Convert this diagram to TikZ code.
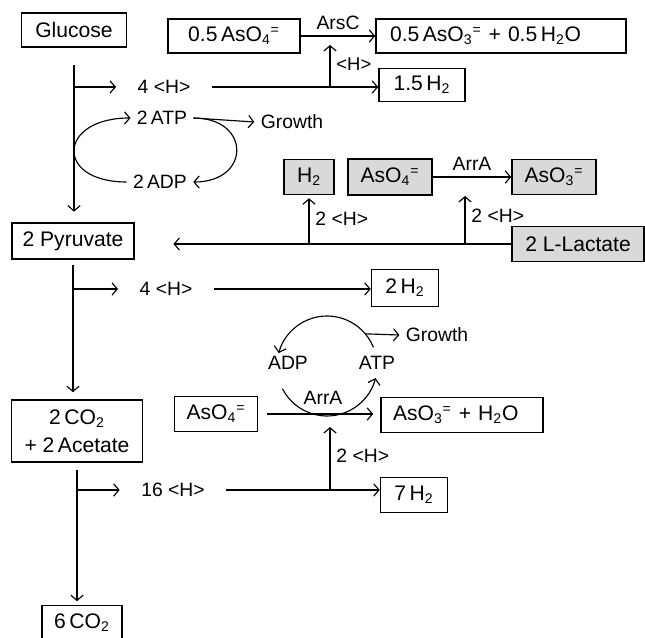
\documentclass[tikz,border=0pt]{standalone}
\usepackage{fontspec}
\setmainfont{Liberation Sans}
\usepackage{tikz}
\usetikzlibrary{arrows.meta,positioning,calc}
\newcommand{\chsub}[1]{\textsubscript{#1}}
\newcommand{\chsup}[1]{\textsuperscript{#1}}

\begin{document}
\begin{tikzpicture}[x=0.02cm,y=-0.02cm,line width=0.65pt,
    >={Straight Barb[length=3pt,width=7pt]},
    box/.style={draw,line width=0.9pt,font=\fontsize{12}{14}\selectfont,inner sep=0pt},
    greybox/.style={box,fill=gray!30},
    lbl/.style={font=\fontsize{11}{13}\selectfont},
    hlbl/.style={lbl,inner xsep=12pt}]
    \useasboundingbox (0,0) rectangle (645,638);

    \node (glucose) at (74,30) [box,minimum width=2.1cm,minimum height=0.68cm] {Glucose};
    \node (a05in) at (234,36) [box,minimum width=2.64cm,minimum height=0.68cm] {0.5\,AsO\chsub{4}\chsup{=}};
    \node (a05out) at (501,36) [box,text width=4.44cm,inner xsep=0.28cm,align=left,minimum height=0.68cm] {0.5\,AsO\chsub{3}\chsup{=} + 0.5\,H\chsub{2}O};
    \node (h15) at (422,85) [box,minimum width=1.72cm,minimum height=0.66cm] {1.5\,H\chsub{2}};

    \node (h4a) at (164,87) [hlbl] {4 <H>};
    \node (atp1) at (162,118) [lbl] {2\,ATP};
    \node (adp1) at (160,182) [lbl] {2\,ADP};
    \node (gr1) at (292,122) [lbl] {Growth};

    \node (h2g) at (309,177) [greybox,minimum width=1.0cm,minimum height=0.7cm] {H\chsub{2}};
    \node (asg) at (390,177) [greybox,minimum width=1.68cm,minimum height=0.72cm] {AsO\chsub{4}\chsup{=}};
    \node (aso3g) at (554,177) [greybox,minimum width=1.68cm,minimum height=0.7cm] {AsO\chsub{3}\chsup{=}};

    \node (pyr) at (73,241) [box,minimum width=2.44cm,minimum height=0.72cm] {2 Pyruvate};
    \node (lac) at (578,244) [greybox,minimum width=2.64cm,minimum height=0.7cm] {2 L-Lactate};

    \node (h4b) at (166,289) [hlbl] {4 <H>};
    \node (h2b) at (405,288) [box,minimum width=1.34cm,minimum height=0.74cm] {2\,H\chsub{2}};

    \node (adp2) at (288,363) [lbl] {ADP};
    \node (atp2) at (377,363) [lbl] {ATP};
    \node (gr2) at (437,335) [lbl] {Growth};
    \node (arra2) at (323,398) [lbl] {ArrA};

    \node (as4c) at (216,414) [box,minimum width=1.66cm,minimum height=0.7cm] {AsO\chsub{4}\chsup{=}};
    \node (as3c) at (462,415) [box,text width=2.76cm,inner xsep=0.24cm,align=left,minimum height=0.7cm] {AsO\chsub{3}\chsup{=} + H\chsub{2}O};
    \node (acet) at (77,431) [box,minimum width=2.62cm,minimum height=1.24cm,align=center,font=\fontsize{12}{16}\selectfont] {2\,CO\chsub{2}\\+ 2\,Acetate};

    \node (h16) at (173,490) [hlbl] {16 <H>};
    \node (h7) at (414,495) [box,minimum width=1.34cm,minimum height=0.7cm] {7\,H\chsub{2}};
    \node (co6) at (82,623) [box,minimum width=1.6cm,minimum height=0.7cm] {6\,CO\chsub{2}};

    \coordinate (b1) at (74,87);
    \coordinate (j1) at (330,87);
    \coordinate (v1) at (309,243);
    \coordinate (v2) at (465,243);
    \coordinate (b2) at (73,289);
    \coordinate (cyc) at (327,366);
    \coordinate (j3) at (330,490);
    \coordinate (b3) at (76,490);

    \draw [->,shorten <=10pt,shorten >=6pt] (glucose.south) -- (glucose.south |- pyr.north);
    \draw [->] (b1) -- (h4a.west);
    \draw [->] (h4a.east) -- (h4a.east -| h15.west);
    \draw [->] (j1) -- ($(j1 |- a05in.east)+(0,9)$) node [lbl,pos=0.55,right,font=\fontsize{10.5}{12}\selectfont] {<H>};
    \draw [->] (a05in.east) -- (a05out.west) node [lbl,midway,above] {ArsC};

    \draw [->] (adp1.west) to[out=180,in=180,looseness=2.9] (atp1.west);
    \draw [->] (atp1.east) to[out=0,in=0,looseness=2.3] (adp1.east);
    \draw [->] (atp1.east) -- (gr1.west);

    \draw [->] (asg.east) -- (aso3g.west) node [lbl,midway,above] {ArrA};
    \draw [->,shorten >=22pt] (lac.west) -- (lac.west -| pyr.east);
    \draw [->] (v1) -- ($(h2g.south)+(0,3)$) node [lbl,pos=0.55,right] {2 <H>};
    \draw [->] (v2) -- ($(v2 |- asg.east)+(0,19)$) node [lbl,pos=0.57,right] {2 <H>};

    \draw [->,shorten <=3pt,shorten >=4pt] (pyr.south) -- (pyr.south |- acet.north);
    \draw [->] (b2) -- (h4b.west);
    \draw [->] (h4b.east) -- (h4b.east -| h2b.west);

    \draw [->] ($(cyc)+(-22:50)$) arc [start angle=-22,end angle=-165,radius=50];
    \draw [->] ($(cyc)+(153:50)$) arc [start angle=153,end angle=14,radius=50];
    \draw [->] ($(cyc)+(-40:50)$) -- (gr2.west);

    \draw [->,shorten <=5pt,shorten >=4pt] (as4c.east) -- (as4c.east -| as3c.west);
    \draw [->] (j3) -- ($(j3 |- as3c.west)+(0,12)$) node [lbl,pos=0.55,right] {2 <H>};
    \draw [->] (b3) -- (h16.west);
    \draw [->] (h16.east) -- (h16.east -| h7.west);
    \draw [->,shorten <=4pt,shorten >=2pt] (acet.south) -- (acet.south |- co6.north);
\end{tikzpicture}
\end{document}
